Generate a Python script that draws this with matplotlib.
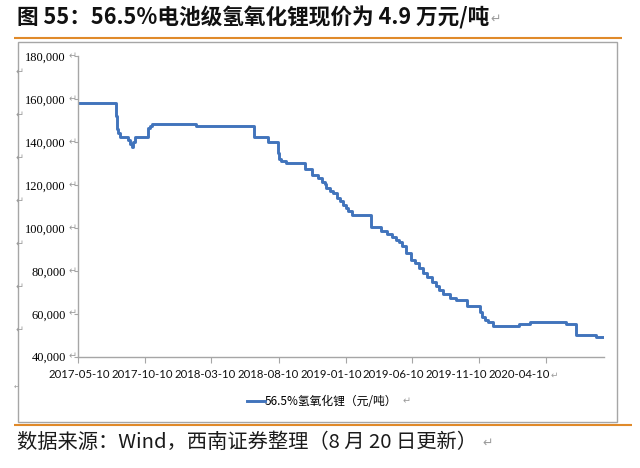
import matplotlib
matplotlib.use("Agg")
import matplotlib.pyplot as plt  # noqa: E402
import pandas as pd  # noqa: E402
from matplotlib.patches import Rectangle  # noqa: E402

# 56.5% 电池级氢氧化锂现价 (元/吨), 价格变动日
DATES = [
    "2017-05-10", "2017-08-05", "2017-08-08", "2017-08-10", "2017-08-14",
    "2017-09-01", "2017-09-05", "2017-09-10", "2017-09-13", "2017-09-17",
    "2017-10-17", "2017-10-21", "2017-10-26", "2018-02-04", "2018-06-16",
    "2018-07-16", "2018-08-08", "2018-08-12", "2018-08-15", "2018-08-26",
    "2018-10-08", "2018-10-26", "2018-11-07", "2018-11-16", "2018-11-23",
    "2018-11-27", "2018-12-04", "2018-12-11", "2018-12-20", "2018-12-27",
    "2019-01-03", "2019-01-10", "2019-01-16", "2019-01-25", "2019-03-08",
    "2019-04-01", "2019-04-13", "2019-04-24", "2019-05-03", "2019-05-10",
    "2019-05-17", "2019-05-26", "2019-06-07", "2019-06-16", "2019-06-25",
    "2019-07-04", "2019-07-13", "2019-07-24", "2019-08-02", "2019-08-11",
    "2019-08-20", "2019-09-03", "2019-09-17", "2019-10-12", "2019-11-12",
    "2019-11-16", "2019-11-22", "2019-11-29", "2019-12-11", "2020-02-09",
    "2020-03-03", "2020-05-25", "2020-06-17", "2020-08-02", "2020-08-20",
]
PRICES = [
    158000, 152000, 146000, 144000, 142500,
    141000, 139000, 137500, 140000, 142500,
    146500, 147500, 148500, 147500, 142500,
    140000, 135000, 132000, 131000, 130000,
    127500, 124500, 123000, 121500, 120500,
    118500, 117000, 116000, 114000, 112500,
    110500, 109000, 108000, 106000, 100500,
    98500, 97000, 95500, 94500, 93500,
    91500, 88500, 85000, 83500, 81500,
    79000, 77000, 75000, 73000, 71000,
    69000, 67500, 66500, 63500, 61000,
    58500, 57000, 56000, 54500, 55000,
    56000, 55000, 50000, 49000, 49000,
]
X_TICKS = ["2017-05-10", "2017-10-10", "2018-03-10", "2018-08-10",
           "2019-01-10", "2019-06-10", "2019-11-10", "2020-04-10"]
Y_TICKS = [40000, 60000, 80000, 100000, 120000, 140000, 160000, 180000]
SERIES = "56.5%氢氧化锂（元/吨）"
TITLE = "图 55：56.5%电池级氢氧化锂现价为 4.9 万元/吨"
SOURCE = "数据来源：Wind，西南证券整理（8 月 20 日更新）"

BLUE = "#4174BC"
ORANGE = "#E08A2A"
GRAY = "#A6A6A6"
MARK = "#9C9C9C"
CJK = ["Noto Sans CJK SC", "DejaVu Sans"]
W, H = 640, 468
PT = 0.72  # px -> pt at dpi 100

fig = plt.figure(figsize=(W / 100, H / 100), dpi=100)

# page decoration in pixel coords
deco = fig.add_axes([0, 0, 1, 1], zorder=-1)
deco.set_xlim(0, W); deco.set_ylim(H, 0); deco.axis("off")
deco.plot([14, 622], [38.3, 38.3], color=ORANGE, lw=1.5, solid_capstyle="butt")
deco.plot([14, 632], [424.5, 424.5], color=ORANGE, lw=1.5, solid_capstyle="butt")
deco.add_patch(Rectangle((18.3, 41.7), 617 - 18.3, 421.7 - 41.7, fill=False, ec=GRAY, lw=1))

title = deco.text(17, 18, TITLE, fontsize=15.6, fontweight="bold", family=CJK,
                  ha="left", va="center", color="#111")
deco.annotate("↵", xy=(1, 0.45), xycoords=title, xytext=(1, 0), textcoords="offset points",
              ha="left", va="center", fontsize=9, color=MARK, family="DejaVu Sans")
src = deco.text(17, 442, SOURCE, fontsize=14.6, family=CJK, ha="left", va="center", color="#1a1a1a")
deco.annotate("↵", xy=(1, 0.45), xycoords=src, xytext=(4, 0), textcoords="offset points",
              ha="left", va="center", fontsize=9, color=MARK, family="DejaVu Sans")
for yy in [72, 115, 158, 201, 244, 287, 330]:
    deco.text(20, yy, "↵", fontsize=7, color=MARK, ha="center", va="center", family="DejaVu Sans")
deco.text(17, 387, "↵", fontsize=5, color=MARK, ha="center", va="center", family="DejaVu Sans")

# chart
x0, x1, y0, y1 = 77.7, 604.3, 56.0, 356.7
ax = fig.add_axes([x0 / W, 1 - y1 / H, (x1 - x0) / W, (y1 - y0) / H])
ax.set_facecolor("none")
dates = pd.to_datetime(DATES)
ax.step(dates, PRICES, where="post", color=BLUE, lw=2.1, label=SERIES)
ax.set_xlim(dates[0], dates[-1])
ax.set_ylim(Y_TICKS[0], Y_TICKS[-1])

for s in ("top", "right"):
    ax.spines[s].set_visible(False)
for s in ("left", "bottom"):
    ax.spines[s].set_color(GRAY)
    ax.spines[s].set_linewidth(1)

ax.set_yticks(Y_TICKS)
ax.set_yticklabels([f"{v:,}" for v in Y_TICKS], family="Liberation Serif", fontsize=9)
ax.tick_params(axis="y", length=3, color=GRAY, pad=5.5)
for v in Y_TICKS:
    ax.annotate("↵", xy=(0, v), xycoords=("axes fraction", "data"), xytext=(-0.5, 0),
                textcoords="offset points", ha="right", va="center", fontsize=7,
                color=MARK, family="DejaVu Sans", annotation_clip=False)

xt = pd.to_datetime(X_TICKS)
ax.set_xticks(xt)
ax.set_xticklabels([])
ax.tick_params(axis="x", length=4, color=GRAY)
# labels in the original sit slightly tighter than the ticks
for i, (d, lab) in enumerate(zip(xt, X_TICKS)):
    t = ax.annotate(lab, xy=(d, 0), xycoords=("data", "axes fraction"),
                    xytext=((1.8 - 4.1 * i) * PT, -18.3 * PT), textcoords="offset points",
                    ha="center", va="center", fontsize=8.2, family="Lato", color="#111",
                    annotation_clip=False)
ax.annotate("↵", xy=(1, 0.5), xycoords=t, xytext=(0.5, 0), textcoords="offset points",
            ha="left", va="center", fontsize=6.5, color=MARK, family="DejaVu Sans",
            annotation_clip=False)

leg = ax.legend(loc="center", bbox_to_anchor=(322 / W, 1 - 401.7 / H), bbox_transform=fig.transFigure,
                frameon=False, prop={"family": CJK, "size": 8.5}, handlelength=1.5, handletextpad=0.0)
ax.annotate("↵", xy=(1, 0.5), xycoords=leg.get_texts()[0], xytext=(4, 0), textcoords="offset points",
            ha="left", va="center", fontsize=7, color=MARK, family="DejaVu Sans",
            annotation_clip=False, zorder=6)

fig.savefig("out.png", dpi=100)
